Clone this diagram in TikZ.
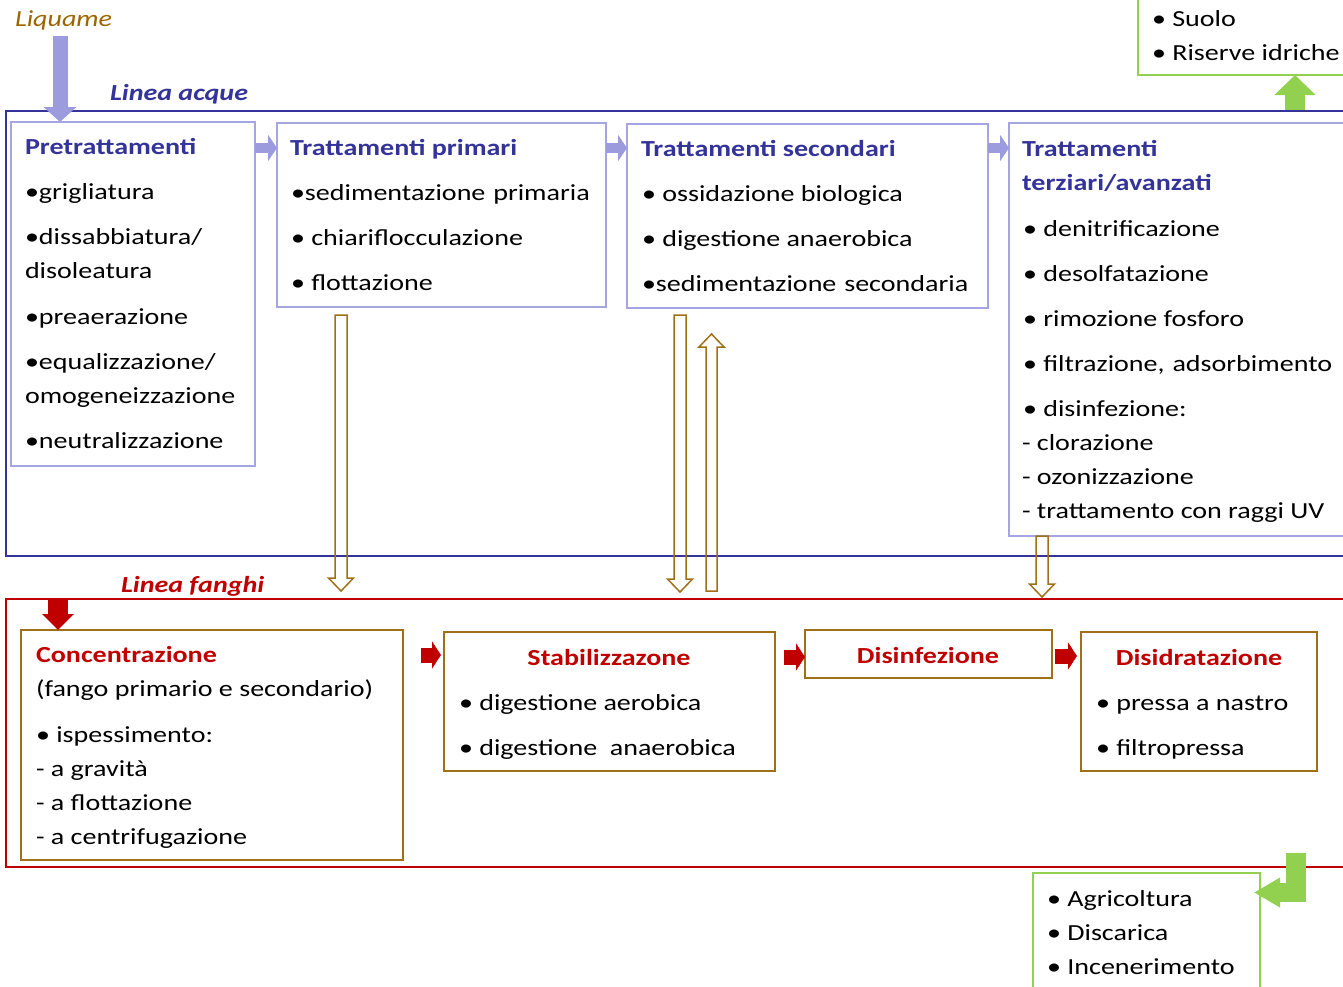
\documentclass[tikz,border=0pt]{standalone}
\usepackage{fontspec}
\setmainfont{Carlito}[FakeStretch=1.22]
\usetikzlibrary{arrows.meta,calc,fit}
\definecolor{acque}{RGB}{51,51,153}
\definecolor{lilac}{RGB}{155,155,222}
\definecolor{lilacbox}{RGB}{165,165,228}
\definecolor{fango}{RGB}{192,0,0}
\definecolor{ocra}{RGB}{160,112,24}
\definecolor{liq}{RGB}{156,101,0}
\definecolor{verde}{RGB}{146,208,80}

% hollow block arrows (outline only), pointing down / up
\newcommand\hollowdown[2]{\draw[hollow] let \p1=(#1), \p2=(#2) in
  (\x1-6pt,\y1) -- (\x1-6pt,\y2+13pt) -- (\x1-12.5pt,\y2+13pt) -- (\x1,\y2)
  -- (\x1+12.5pt,\y2+13pt) -- (\x1+6pt,\y2+13pt) -- (\x1+6pt,\y1) -- cycle;}
\newcommand\hollowup[2]{\draw[hollow] let \p1=(#1), \p2=(#2) in
  (\x1-5.5pt,\y1) -- (\x1-5.5pt,\y2-13pt) -- (\x1-12.5pt,\y2-13pt) -- (\x1,\y2)
  -- (\x1+12.5pt,\y2-13pt) -- (\x1+5.5pt,\y2-13pt) -- (\x1+5.5pt,\y1) -- cycle;}
% slightly widened word space
\newcommand\wsp{\ \hspace{1.5pt}}

\begin{document}
\begin{tikzpicture}[x=1pt,y=-1pt,
  every node/.style={inner sep=0pt, outer sep=0pt},
  txt/.style={anchor=base west, font=\fontsize{23}{28}\selectfont},
  ctxt/.style={anchor=base, font=\fontsize{23}{28}\selectfont\bfseries, text=fango},
  bluetitle/.style={txt, font=\fontsize{23}{28}\selectfont\bfseries, text=acque},
  redtitle/.style={txt, font=\fontsize{23}{28}\selectfont\bfseries, text=fango},
  linelabel/.style={anchor=base west, font=\fontsize{23}{28}\selectfont\bfseries\itshape},
  frame/.style={line width=1.8pt},
  wbox/.style={draw=lilacbox, line width=1.8pt},
  sbox/.style={draw=ocra, line width=1.8pt},
  gbox/.style={draw=verde, line width=1.8pt},
  hollow/.style={draw=ocra, line width=1.5pt, line join=miter},
  parrow/.style={draw=lilac, line width=10pt, -{Triangle[width=26pt,length=9pt]}},
  rarrow/.style={draw=fango, line width=15pt, -{Triangle[width=27pt,length=9pt]}},
  garrow/.style={draw=verde, line width=20pt, line join=miter, -{Triangle[width=40pt,length=20pt]}},
]
\useasboundingbox (0,0) rectangle (1343,986);
\clip (0,0) rectangle (1343,986);

% ---- frames of the two lines ----
\node[fit={(6,111) (1370,556)}, draw=acque, frame] (acque) {};
\node[fit={(6,599) (1370,867)}, draw=fango, frame] (fanghi) {};

\node[linelabel, text=acque] (lacque) at (110,100) {Linea acque};
\node[linelabel, text=fango] (lfanghi) at (121,592) {Linea fanghi};
\node[anchor=base west, font=\fontsize{23}{28}\selectfont\itshape, text=liq] (liquame) at (15,26) {Liquame};

% ---- water line boxes ----
\node[fit={(11,122) (255,466)}, wbox] (pre) {};
\node[fit={(277,123) (606,307)}, wbox] (pri) {};
\node[fit={(627,124) (988,308)}, wbox] (sec) {};
\node[fit={(1009,123) (1370,536)}, wbox] (ter) {};

\node[bluetitle] (preT) at (25,154) {Pretrattamenti};
\node[txt] (pre1) at (25,199) {•grigliatura};
\node[txt] (pre2) at (25,244) {•dissabbiatura/};
\node[txt] (pre3) at (25,278) {disoleatura};
\node[txt] (pre4) at (25,324) {•preaerazione};
\node[txt] (pre5) at (25,369) {•equalizzazione/};
\node[txt] (pre6) at (25,403) {omogeneizzazione};
\node[txt] (pre7) at (25,448) {•neutralizzazione};

\node[bluetitle] (priT) at (290,155) {Trattamenti primari};
\node[txt] (pri1) at (291,200) {•sedimentazione\wsp primaria};
\node[txt] (pri2) at (291,245) {• chiariflocculazione};
\node[txt] (pri3) at (291,290) {• flottazione};

\node[bluetitle] (secT) at (641,156) {Trattamenti secondari};
\node[txt] (sec1) at (642,201) {• ossidazione biologica};
\node[txt] (sec2) at (642,246) {• digestione anaerobica};
\node[txt] (sec3) at (642,291) {•sedimentazione\wsp secondaria};

\node[bluetitle] (terT1) at (1022,156) {Trattamenti};
\node[bluetitle] (terT2) at (1022,190) {terziari/avanzati};
\node[txt] (ter1) at (1023,236) {• denitrificazione};
\node[txt] (ter2) at (1023,281) {• desolfatazione};
\node[txt] (ter3) at (1023,326) {• rimozione fosforo};
\node[txt] (ter4) at (1023,371) {• filtrazione,\wsp adsorbimento};
\node[txt] (ter5) at (1023,416) {• disinfezione:};
\node[txt] (ter6) at (1022,450) {- clorazione};
\node[txt] (ter7) at (1022,484) {- ozonizzazione};
\node[txt] (ter8) at (1022,518) {- trattamento con raggi UV};

% ---- final destinations ----
\node[fit={(1138,-20) (1370,75)}, gbox] (dest1) {};
\node[txt] (d11) at (1152,26) {• Suolo};
\node[txt] (d12) at (1152,60) {• Riserve idriche};

\node[fit={(1033,873) (1260,1010)}, gbox] (dest2) {};
\node[txt] (d21) at (1047,906) {• Agricoltura};
\node[txt] (d22) at (1047,940) {• Discarica};
\node[txt] (d23) at (1047,974) {• Incenerimento};

% ---- sludge line boxes ----
\node[fit={(21,630) (403,860)}, sbox] (conc) {};
\node[fit={(444,632) (775,771)}, sbox] (stab) {};
\node[fit={(805,630) (1052,678)}, sbox] (disi) {};
\node[fit={(1081,632) (1317,771)}, sbox] (disid) {};

\node[redtitle] (concT) at (36,662) {Concentrazione};
\node[txt] (conc1) at (36,696) {(fango primario e secondario)};
\node[txt] (conc2) at (36,742) {• ispessimento:};
\node[txt] (conc3) at (36,776) {- a gravità};
\node[txt] (conc4) at (36,810) {- a flottazione};
\node[txt] (conc5) at (36,844) {- a centrifugazione};

\node[ctxt] (stabT) at (609,665) {Stabilizzazone};
\node[txt] (stab1) at (459,710) {• digestione aerobica};
\node[txt] (stab2) at (459,755) {• digestione\ \ anaerobica};

\node[ctxt] (disiT) at (928,663) {Disinfezione};

\node[ctxt] (disidT) at (1199,665) {Disidratazione};
\node[txt] (disid1) at (1096,710) {• pressa a nastro};
\node[txt] (disid2) at (1096,755) {• filtropressa};

% ---- water line arrows ----
\coordinate (liqtop) at (60,36);
\draw[draw=lilac, line width=15pt, -{Triangle[width=32pt,length=15pt]}]
  (liqtop) -- (liqtop |- pre.north);
\draw[parrow] ([yshift=-26pt]pre.north east) -- ([yshift=-26pt]pre.north east -| pri.west);
\draw[parrow] ([yshift=-25pt]pri.north east) -- ([yshift=-25pt]pri.north east -| sec.west);
\draw[parrow] ([yshift=-24pt]sec.north east) -- ([yshift=-24pt]sec.north east -| ter.west);

% ---- transfers from water line to sludge line ----
\coordinate (t1a) at (341,315);  \coordinate (t1b) at (341,591);
\coordinate (t2a) at (680,315);  \coordinate (t2b) at (680,592);
\coordinate (t3a) at (711.5,591); \coordinate (t3b) at (711.5,334);
\coordinate (t4a) at (1042,0); \coordinate (t4b) at (1042,597);
\hollowdown{t1a}{t1b}
\hollowdown{t2a}{t2b}
\hollowup{t3a}{t3b}
\hollowdown{t4a |- ter.south}{t4b}

% ---- sludge line arrows ----
\coordinate (fin) at (58,599);
\draw[draw=fango, line width=20pt, -{Triangle[width=31pt,length=16pt]}]
  (fin) -- (fin |- conc.north);
\draw[rarrow, shorten <=18pt, shorten >=3pt] ([yshift=-25pt]conc.north east) -- ([yshift=-25pt]conc.north east -| stab.west);
\draw[rarrow, shorten <=9pt] ([yshift=-25pt]stab.north east) -- ([yshift=-25pt]stab.north east -| disi.west);
\draw[rarrow, shorten <=3pt, shorten >=4pt] ([yshift=-26pt]disi.north east) -- ([yshift=-26pt]disi.north east -| disid.west);

% ---- outputs ----
\coordinate (gup) at (1295,110);
\draw[garrow] (gup) -- (gup |- dest1.south) ;
\coordinate (gdn) at (1296,853);
\draw[garrow, line width=19.5pt, -{Triangle[width=28pt,length=26pt]}, shorten >=-6pt]
  (gdn) |- ([yshift=-19.5pt]dest2.north east);
\end{tikzpicture}
\end{document}
